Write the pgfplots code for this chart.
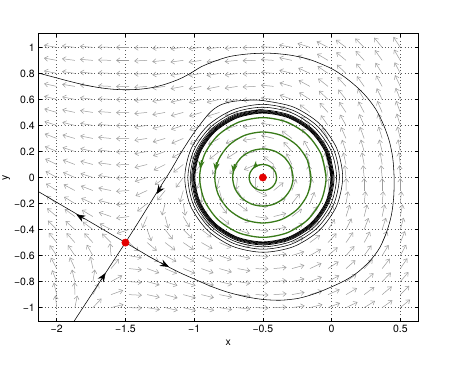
\documentclass[border=0pt]{standalone}
\usepackage{fontspec}
\setmainfont{TeX Gyre Heros}
\usepackage{pgfplots}
\pgfplotsset{compat=1.18}
\usetikzlibrary{arrows.meta}
\definecolor{fieldgray}{RGB}{155,155,155}
\definecolor{cgreen}{RGB}{56,122,24}
\definecolor{cred}{RGB}{228,0,0}
\begin{document}
\begin{tikzpicture}
\path[use as bounding box] (0,0) rectangle (461bp,370bp);
\begin{axis}[
  at={(38.3bp,48.3bp)}, anchor=south west,
  scale only axis, width=380bp, height=288.4bp,
  xmin=-2.134, xmax=0.631, ymin=-1.108, ymax=1.108,
  xtick={-2,-1.5,-1,-0.5,0,0.5},
  xticklabels={−2,−1.5,−1,−0.5,0,0.5},
  ytick={-1,-0.8,-0.6,-0.4,-0.2,0,0.2,0.4,0.6,0.8,1},
  yticklabels={−1,−0.8,−0.6,−0.4,−0.2,0,0.2,0.4,0.6,0.8,1},
  tick align=inside,
  major tick length=3.5bp,
  tick style={black, line width=0.5bp},
  axis line style={black, line width=0.5bp},
  grid=major,
  grid style={black!65, line width=0.5bp, dash pattern=on 0.6bp off 2.7bp},
  tick label style={font=\fontsize{10.5bp}{12.5bp}\selectfont},
  label style={font=\fontsize{10.5bp}{12.5bp}\selectfont},
  xlabel={x}, ylabel={y},
  ylabel style={at={(axis description cs:-0.084,0.5)}, anchor=center},
]
% direction field (angles in degrees)
\addplot[draw=fieldgray, line width=0.5bp,
  quiver={u={0.094*cos(\thisrow{a})}, v={0.094*sin(\thisrow{a})},
  every arrow/.append style={-{Straight Barb[length=3.4bp,width=5bp]}}}]
  table[row sep=\\] {
x y a\\
-2 -1 96\\ -1.868 -1 79\\ -1.737 -1 48\\ -1.605 -1 15\\ -1.474 -1 -2\\ -1.342 -1 -10\\ -1.211 -1 -13\\ -1.079 -1 -14\\ -0.947 -1 -13\\ -0.816 -1 -10\\ -0.684 -1 -7\\ -0.553 -1 -2\\ -0.421 -1 3\\ -0.289 -1 9\\ -0.158 -1 15\\ -0.026 -1 22\\ 0.105 -1 27\\ 0.237 -1 33\\ 0.368 -1 37\\ 0.5 -1 41\\
-2 -0.9 103\\ -1.868 -0.9 91\\ -1.737 -0.9 63\\ -1.605 -0.9 21\\ -1.474 -0.9 -3\\ -1.342 -0.9 -13\\ -1.211 -0.9 -16\\ -1.079 -0.9 -16\\ -0.947 -0.9 -15\\ -0.816 -0.9 -12\\ -0.684 -0.9 -8\\ -0.553 -0.9 -2\\ -0.421 -0.9 4\\ -0.289 -0.9 11\\ -0.158 -0.9 18\\ -0.026 -0.9 25\\ 0.105 -0.9 32\\ 0.237 -0.9 38\\ 0.368 -0.9 42\\ 0.5 -0.9 46\\
-2 -0.8 111\\ -1.868 -0.8 103\\ -1.737 -0.8 81\\ -1.605 -0.8 30\\ -1.474 -0.8 -4\\ -1.342 -0.8 -16\\ -1.211 -0.8 -19\\ -1.079 -0.8 -19\\ -0.947 -0.8 -17\\ -0.816 -0.8 -14\\ -0.684 -0.8 -9\\ -0.553 -0.8 -3\\ -0.421 -0.8 5\\ -0.289 -0.8 13\\ -0.158 -0.8 22\\ -0.026 -0.8 30\\ 0.105 -0.8 37\\ 0.237 -0.8 43\\ 0.368 -0.8 48\\ 0.5 -0.8 51\\
-2 -0.7 117\\ -1.868 -0.7 113\\ -1.737 -0.7 101\\ -1.605 -0.7 52\\ -1.474 -0.7 -6\\ -1.342 -0.7 -21\\ -1.211 -0.7 -24\\ -1.079 -0.7 -23\\ -0.947 -0.7 -21\\ -0.816 -0.7 -17\\ -0.684 -0.7 -11\\ -0.553 -0.7 -3\\ -0.421 -0.7 6\\ -0.289 -0.7 16\\ -0.158 -0.7 26\\ -0.026 -0.7 35\\ 0.105 -0.7 43\\ 0.237 -0.7 49\\ 0.368 -0.7 54\\ 0.5 -0.7 57\\
-2 -0.6 123\\ -1.868 -0.6 122\\ -1.737 -0.6 118\\ -1.605 -0.6 94\\ -1.474 -0.6 -11\\ -1.342 -0.6 -28\\ -1.211 -0.6 -30\\ -1.079 -0.6 -29\\ -0.947 -0.6 -25\\ -0.816 -0.6 -20\\ -0.684 -0.6 -13\\ -0.553 -0.6 -4\\ -0.421 -0.6 7\\ -0.289 -0.6 19\\ -0.158 -0.6 31\\ -0.026 -0.6 42\\ 0.105 -0.6 50\\ 0.237 -0.6 56\\ 0.368 -0.6 60\\ 0.5 -0.6 63\\
-2 -0.5 128\\ -1.868 -0.5 130\\ -1.737 -0.5 131\\ -1.605 -0.5 133\\ -1.474 -0.5 -44\\ -1.342 -0.5 -42\\ -1.211 -0.5 -39\\ -1.079 -0.5 -36\\ -0.947 -0.5 -31\\ -0.816 -0.5 -25\\ -0.684 -0.5 -16\\ -0.553 -0.5 -5\\ -0.421 -0.5 9\\ -0.289 -0.5 24\\ -0.158 -0.5 38\\ -0.026 -0.5 49\\ 0.105 -0.5 57\\ 0.237 -0.5 63\\ 0.368 -0.5 67\\ 0.5 -0.5 69\\
-2 -0.4 133\\ -1.868 -0.4 136\\ -1.737 -0.4 141\\ -1.605 -0.4 151\\ -1.474 -0.4 199\\ -1.342 -0.4 -71\\ -1.211 -0.4 -54\\ -1.079 -0.4 -46\\ -0.947 -0.4 -39\\ -0.816 -0.4 -31\\ -0.684 -0.4 -21\\ -0.553 -0.4 -7\\ -0.421 -0.4 11\\ -0.289 -0.4 30\\ -0.158 -0.4 46\\ -0.026 -0.4 58\\ 0.105 -0.4 65\\ 0.237 -0.4 70\\ 0.368 -0.4 73\\ 0.5 -0.4 75\\
-2 -0.3 138\\ -1.868 -0.3 142\\ -1.737 -0.3 148\\ -1.605 -0.3 160\\ -1.474 -0.3 188\\ -1.342 -0.3 248\\ -1.211 -0.3 -76\\ -1.079 -0.3 -61\\ -0.947 -0.3 -50\\ -0.816 -0.3 -40\\ -0.684 -0.3 -27\\ -0.553 -0.3 -9\\ -0.421 -0.3 15\\ -0.289 -0.3 39\\ -0.158 -0.3 56\\ -0.026 -0.3 67\\ 0.105 -0.3 73\\ 0.237 -0.3 77\\ 0.368 -0.3 79\\ 0.5 -0.3 80\\
-2 -0.2 142\\ -1.868 -0.2 147\\ -1.737 -0.2 154\\ -1.605 -0.2 165\\ -1.474 -0.2 185\\ -1.342 -0.2 220\\ -1.211 -0.2 256\\ -1.079 -0.2 -81\\ -0.947 -0.2 -67\\ -0.816 -0.2 -55\\ -0.684 -0.2 -39\\ -0.553 -0.2 -14\\ -0.421 -0.2 23\\ -0.289 -0.2 53\\ -0.158 -0.2 69\\ -0.026 -0.2 77\\ 0.105 -0.2 81\\ 0.237 -0.2 84\\ 0.368 -0.2 85\\ 0.5 -0.2 85\\
-2 -0.1 146\\ -1.868 -0.1 151\\ -1.737 -0.1 158\\ -1.605 -0.1 168\\ -1.474 -0.1 184\\ -1.342 -0.1 206\\ -1.211 -0.1 233\\ -1.079 -0.1 255\\ -0.947 -0.1 -89\\ -0.816 -0.1 -76\\ -0.684 -0.1 -61\\ -0.553 -0.1 -27\\ -0.421 -0.1 41\\ -0.289 -0.1 71\\ -0.158 -0.1 82\\ -0.026 -0.1 86\\ 0.105 -0.1 89\\ 0.237 -0.1 90\\ 0.368 -0.1 90\\ 0.5 -0.1 90\\
-2 0 149\\ -1.868 0 155\\ -1.737 0 161\\ -1.605 0 170\\ -1.474 0 183\\ -1.342 0 199\\ -1.211 0 217\\ -1.079 0 235\\ -0.947 0 248\\ -0.816 0 258\\ -0.684 0 264\\ -0.553 0 269\\ -0.421 0 92\\ -0.289 0 94\\ -0.158 0 95\\ -0.026 0 96\\ 0.105 0 96\\ 0.237 0 95\\ 0.368 0 95\\ 0.5 0 94\\
-2 0.1 153\\ -1.868 0.1 158\\ -1.737 0.1 164\\ -1.605 0.1 172\\ -1.474 0.1 182\\ -1.342 0.1 195\\ -1.211 0.1 208\\ -1.079 0.1 220\\ -0.947 0.1 230\\ -0.816 0.1 235\\ -0.684 0.1 232\\ -0.553 0.1 206\\ -0.421 0.1 140\\ -0.289 0.1 115\\ -0.158 0.1 107\\ -0.026 0.1 104\\ 0.105 0.1 102\\ 0.237 0.1 100\\ 0.368 0.1 99\\ 0.5 0.1 97\\
-2 0.2 156\\ -1.868 0.2 161\\ -1.737 0.2 166\\ -1.605 0.2 173\\ -1.474 0.2 182\\ -1.342 0.2 191\\ -1.211 0.2 201\\ -1.079 0.2 210\\ -0.947 0.2 217\\ -0.816 0.2 219\\ -0.684 0.2 214\\ -0.553 0.2 194\\ -0.421 0.2 157\\ -0.289 0.2 130\\ -0.158 0.2 118\\ -0.026 0.2 111\\ 0.105 0.2 108\\ 0.237 0.2 105\\ 0.368 0.2 103\\ 0.5 0.2 100\\
-2 0.3 158\\ -1.868 0.3 163\\ -1.737 0.3 168\\ -1.605 0.3 174\\ -1.474 0.3 181\\ -1.342 0.3 189\\ -1.211 0.3 197\\ -1.079 0.3 204\\ -0.947 0.3 208\\ -0.816 0.3 209\\ -0.684 0.3 204\\ -0.553 0.3 189\\ -0.421 0.3 165\\ -0.289 0.3 141\\ -0.158 0.3 127\\ -0.026 0.3 118\\ 0.105 0.3 113\\ 0.237 0.3 109\\ 0.368 0.3 106\\ 0.5 0.3 103\\
-2 0.4 161\\ -1.868 0.4 165\\ -1.737 0.4 170\\ -1.605 0.4 175\\ -1.474 0.4 181\\ -1.342 0.4 188\\ -1.211 0.4 194\\ -1.079 0.4 199\\ -0.947 0.4 202\\ -0.816 0.4 202\\ -0.684 0.4 198\\ -0.553 0.4 187\\ -0.421 0.4 169\\ -0.289 0.4 149\\ -0.158 0.4 134\\ -0.026 0.4 124\\ 0.105 0.4 118\\ 0.237 0.4 113\\ 0.368 0.4 109\\ 0.5 0.4 106\\
-2 0.5 163\\ -1.868 0.5 167\\ -1.737 0.5 171\\ -1.605 0.5 176\\ -1.474 0.5 181\\ -1.342 0.5 186\\ -1.211 0.5 191\\ -1.079 0.5 196\\ -0.947 0.5 198\\ -0.816 0.5 198\\ -0.684 0.5 194\\ -0.553 0.5 185\\ -0.421 0.5 171\\ -0.289 0.5 155\\ -0.158 0.5 141\\ -0.026 0.5 130\\ 0.105 0.5 122\\ 0.237 0.5 117\\ 0.368 0.5 112\\ 0.5 0.5 109\\
-2 0.6 165\\ -1.868 0.6 168\\ -1.737 0.6 172\\ -1.605 0.6 177\\ -1.474 0.6 181\\ -1.342 0.6 185\\ -1.211 0.6 189\\ -1.079 0.6 193\\ -0.947 0.6 195\\ -0.816 0.6 194\\ -0.684 0.6 191\\ -0.553 0.6 184\\ -0.421 0.6 173\\ -0.289 0.6 159\\ -0.158 0.6 146\\ -0.026 0.6 135\\ 0.105 0.6 127\\ 0.237 0.6 120\\ 0.368 0.6 115\\ 0.5 0.6 111\\
-2 0.7 167\\ -1.868 0.7 170\\ -1.737 0.7 173\\ -1.605 0.7 177\\ -1.474 0.7 181\\ -1.342 0.7 185\\ -1.211 0.7 188\\ -1.079 0.7 191\\ -0.947 0.7 192\\ -0.816 0.7 192\\ -0.684 0.7 189\\ -0.553 0.7 183\\ -0.421 0.7 174\\ -0.289 0.7 163\\ -0.158 0.7 150\\ -0.026 0.7 140\\ 0.105 0.7 131\\ 0.237 0.7 124\\ 0.368 0.7 118\\ 0.5 0.7 114\\
-2 0.8 168\\ -1.868 0.8 171\\ -1.737 0.8 174\\ -1.605 0.8 177\\ -1.474 0.8 181\\ -1.342 0.8 184\\ -1.211 0.8 187\\ -1.079 0.8 189\\ -0.947 0.8 190\\ -0.816 0.8 190\\ -0.684 0.8 188\\ -0.553 0.8 183\\ -0.421 0.8 175\\ -0.289 0.8 165\\ -0.158 0.8 154\\ -0.026 0.8 144\\ 0.105 0.8 135\\ 0.237 0.8 127\\ 0.368 0.8 121\\ 0.5 0.8 116\\
-2 0.9 169\\ -1.868 0.9 172\\ -1.737 0.9 175\\ -1.605 0.9 178\\ -1.474 0.9 180\\ -1.342 0.9 183\\ -1.211 0.9 186\\ -1.079 0.9 188\\ -0.947 0.9 189\\ -0.816 0.9 188\\ -0.684 0.9 186\\ -0.553 0.9 182\\ -0.421 0.9 176\\ -0.289 0.9 167\\ -0.158 0.9 158\\ -0.026 0.9 148\\ 0.105 0.9 139\\ 0.237 0.9 131\\ 0.368 0.9 124\\ 0.5 0.9 119\\
-2 1 170\\ -1.868 1 173\\ -1.737 1 175\\ -1.605 1 178\\ -1.474 1 180\\ -1.342 1 183\\ -1.211 1 185\\ -1.079 1 187\\ -0.947 1 187\\ -0.816 1 187\\ -0.684 1 185\\ -0.553 1 182\\ -0.421 1 177\\ -0.289 1 169\\ -0.158 1 161\\ -0.026 1 151\\ 0.105 1 142\\ 0.237 1 134\\ 0.368 1 128\\ 0.5 1 122\\
};
% band of orbits on the limit cycle
\addplot[black, line width=0.75bp, smooth] coordinates {(-0.005,0) (-0.0427,0.1894) (-0.15,0.35) (-0.3106,0.4573) (-0.5,0.495) (-0.6894,0.4573) (-0.85,0.35) (-0.9573,0.1894) (-0.995,0) (-0.9573,-0.1894) (-0.85,-0.35) (-0.6894,-0.4573) (-0.5,-0.495) (-0.3106,-0.4573) (-0.15,-0.35) (-0.0427,-0.1894) (-0.005,0) (-0.0427,0.1894)};
\addplot[black, line width=0.75bp, smooth] coordinates {(0,0) (-0.0381,0.1913) (-0.1464,0.3536) (-0.3087,0.4619) (-0.5,0.5) (-0.6913,0.4619) (-0.8536,0.3536) (-0.9619,0.1913) (-1,0) (-0.9619,-0.1913) (-0.8536,-0.3536) (-0.6913,-0.4619) (-0.5,-0.5) (-0.3087,-0.4619) (-0.1464,-0.3536) (-0.0381,-0.1913) (0,0) (-0.0381,0.1913)};
\addplot[black, line width=0.75bp, smooth] coordinates {(0.005,0) (-0.0334,0.1933) (-0.1429,0.3571) (-0.3067,0.4666) (-0.5,0.505) (-0.6933,0.4666) (-0.8571,0.3571) (-0.9666,0.1933) (-1.005,0) (-0.9666,-0.1933) (-0.8571,-0.3571) (-0.6933,-0.4666) (-0.5,-0.505) (-0.3067,-0.4666) (-0.1429,-0.3571) (-0.0334,-0.1933) (0.005,0) (-0.0334,0.1933)};
\addplot[black, line width=0.75bp, smooth] coordinates {(0.011,0) (-0.0279,0.1955) (-0.1387,0.3613) (-0.3045,0.4721) (-0.5,0.511) (-0.6955,0.4721) (-0.8613,0.3613) (-0.9721,0.1955) (-1.011,0) (-0.9721,-0.1955) (-0.8613,-0.3613) (-0.6955,-0.4721) (-0.5,-0.511) (-0.3045,-0.4721) (-0.1387,-0.3613) (-0.0279,-0.1955) (0.011,0) (-0.0279,0.1955)};
\addplot[black, line width=0.75bp, smooth] coordinates {(0.018,0) (-0.0214,0.1982) (-0.1337,0.3663) (-0.3018,0.4786) (-0.5,0.518) (-0.6982,0.4786) (-0.8663,0.3663) (-0.9786,0.1982) (-1.018,0) (-0.9786,-0.1982) (-0.8663,-0.3663) (-0.6982,-0.4786) (-0.5,-0.518) (-0.3018,-0.4786) (-0.1337,-0.3663) (-0.0214,-0.1982) (0.018,0) (-0.0214,0.1982)};
% upper stable manifold of the saddle, spiralling onto the cycle
\addplot[black, line width=0.55bp, smooth] coordinates {
(-1.5,-0.5) (-1.38,-0.3) (-1.263,-0.1) (-1.17,0.055) (-1.09,0.2) (-1.0,0.345) (-0.91,0.47) (-0.86,0.523) (-0.8,0.561) (-0.72,0.584) (-0.62,0.593)
(-0.5,0.591) (-0.276,0.5408) (-0.0871,0.4129) (0.038,0.2228) (0.0808,0) (0.0351,-0.2217) (-0.0916,-0.4084) (-0.2795,-0.5322) (-0.5,-0.5745) (-0.7192,-0.5293) (-0.904,-0.404) (-1.0264,-0.2181) (-1.0683,0) (-1.0236,0.2169) (-0.8996,0.3996) (-0.7157,0.5207)
(-0.5,0.562) (-0.2855,0.5179) (-0.1045,0.3955) (0.0154,0.2135) (0.0565,0) (0.0129,-0.2124) (-0.1084,-0.3916) (-0.2886,-0.5103) (-0.5,-0.551) (-0.7103,-0.5078) (-0.8877,-0.3877) (-1.0053,-0.2093) (-1.0455,0) (-1.0027,0.2082) (-0.8838,0.3838) (-0.7072,0.5002)
(-0.5,0.54) (-0.2937,0.4981) (-0.1195,0.3805) (-0.0037,0.2056) (0.0362,0) (-0.0055,-0.2048) (-0.1221,-0.3779) (-0.2959,-0.4928) (-0.5,-0.5325) (-0.7034,-0.491) (-0.8752,-0.3752) (-0.9894,-0.2027) (-1.0287,0) (-0.9876,0.202) (-0.8725,0.3725) (-0.7013,0.4859) (-0.5,0.525)};
% lower stable manifold
\addplot[black, line width=0.55bp] coordinates {(-1.902,-1.15) (-1.5,-0.5)};
% left unstable manifold
\addplot[black, line width=0.55bp] coordinates {(-1.5,-0.5) (-1.82,-0.302) (-2.16,-0.092)};
% right unstable manifold: the big loop
\addplot[black, line width=0.55bp, smooth] coordinates {
(-1.5,-0.5) (-1.4,-0.562) (-1.3,-0.624) (-1.2,-0.68) (-1.1,-0.733) (-1.0,-0.78) (-0.88,-0.835) (-0.76,-0.88) (-0.63,-0.915) (-0.5,-0.937) (-0.37,-0.943) (-0.24,-0.928) (-0.12,-0.892) (0.0,-0.84) (0.1,-0.79) (0.19,-0.728) (0.28,-0.64) (0.35,-0.54) (0.40,-0.42) (0.435,-0.29) (0.452,-0.15) (0.455,0.0) (0.445,0.15) (0.42,0.28) (0.38,0.40) (0.33,0.51) (0.27,0.60) (0.2,0.68) (0.11,0.76) (0.02,0.825) (-0.07,0.87) (-0.17,0.91) (-0.3,0.94) (-0.45,0.955) (-0.6,0.95) (-0.74,0.93) (-0.86,0.89) (-0.95,0.85) (-1.02,0.805) (-1.1,0.76) (-1.2,0.72) (-1.3,0.692) (-1.4,0.678) (-1.5,0.674) (-1.6,0.679) (-1.7,0.692) (-1.8,0.712) (-1.9,0.737) (-2.0,0.765) (-2.16,0.81)};
% arrowheads on the manifolds
\addplot[black, line width=0.55bp,
  quiver={u=\thisrow{u}, v=\thisrow{v},
  every arrow/.append style={-{Stealth[length=9bp,width=7bp,inset=3bp]}}}]
  table[row sep=\\] {
x y u v\\
-1.7985 -0.3199 -0.0595 0.0369\\
-1.2445 -0.6535 0.0615 -0.0335\\
-1.681 -0.793 0.0368 0.0596\\
-1.237 -0.068 -0.0368 -0.0596\\
};
% green orbits inside the cycle
\addplot[cgreen, line width=1.3bp, smooth] coordinates {(-0.4,0) (-0.4076,0.0383) (-0.4293,0.0707) (-0.4617,0.0924) (-0.5,0.1) (-0.5383,0.0924) (-0.5707,0.0707) (-0.5924,0.0383) (-0.6,0) (-0.5924,-0.0383) (-0.5707,-0.0707) (-0.5383,-0.0924) (-0.5,-0.1) (-0.4617,-0.0924) (-0.4293,-0.0707) (-0.4076,-0.0383) (-0.4,0) (-0.4076,0.0383)};
\addplot[cgreen, line width=1.3bp, smooth] coordinates {(-0.28,0) (-0.2967,0.0842) (-0.3444,0.1556) (-0.4158,0.2033) (-0.5,0.22) (-0.5842,0.2033) (-0.6556,0.1556) (-0.7033,0.0842) (-0.72,0) (-0.7033,-0.0842) (-0.6556,-0.1556) (-0.5842,-0.2033) (-0.5,-0.22) (-0.4158,-0.2033) (-0.3444,-0.1556) (-0.2967,-0.0842) (-0.28,0) (-0.2967,0.0842)};
\addplot[cgreen, line width=1.3bp, smooth] coordinates {(-0.15,0) (-0.1766,0.1339) (-0.2525,0.2475) (-0.3661,0.3234) (-0.5,0.35) (-0.6339,0.3234) (-0.7475,0.2475) (-0.8234,0.1339) (-0.85,0) (-0.8234,-0.1339) (-0.7475,-0.2475) (-0.6339,-0.3234) (-0.5,-0.35) (-0.3661,-0.3234) (-0.2525,-0.2475) (-0.1766,-0.1339) (-0.15,0) (-0.1766,0.1339)};
\addplot[cgreen, line width=1.3bp, smooth] coordinates {(-0.04,0) (-0.075,0.176) (-0.1747,0.3253) (-0.324,0.425) (-0.5,0.46) (-0.676,0.425) (-0.8253,0.3253) (-0.925,0.176) (-0.96,0) (-0.925,-0.176) (-0.8253,-0.3253) (-0.676,-0.425) (-0.5,-0.46) (-0.324,-0.425) (-0.1747,-0.3253) (-0.075,-0.176) (-0.04,0) (-0.075,0.176)};
\addplot[cgreen, line width=1.3bp,
  quiver={u=\thisrow{u}, v=\thisrow{v},
  every arrow/.append style={-{Stealth[length=8bp,width=6bp,inset=2.5bp]}}}]
  table[row sep=\\] {
x y u v\\
-0.9458 0.1333 -0.0097 -0.0693\\
-0.8369 0.118 -0.0097 -0.0693\\
-0.7064 0.1036 -0.0109 -0.0692\\
-0.5442 0.1003 -0.0301 -0.0334\\
};
% equilibria
\addplot[only marks, mark=*, mark size=3.7bp, mark options={fill=cred, draw=cred}] coordinates {(-0.5,0) (-1.5,-0.5)};
\end{axis}
\end{tikzpicture}
\end{document}
